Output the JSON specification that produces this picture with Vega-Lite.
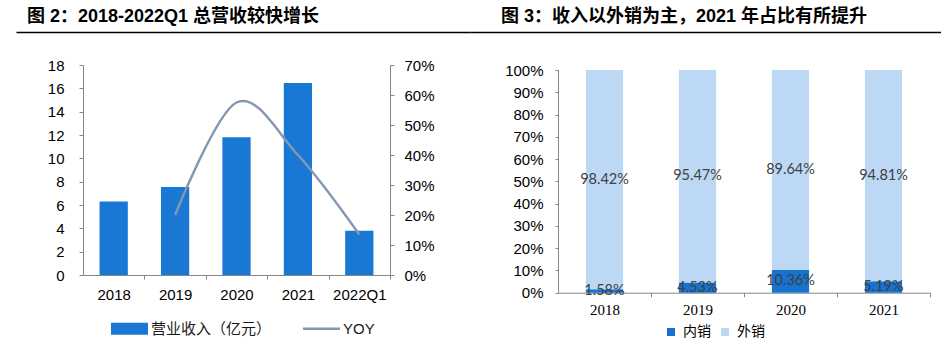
{
  "$schema": "https://vega.github.io/schema/vega-lite/v6.json",
  "padding": {"left": 16, "top": 8, "right": 0, "bottom": 0},
  "background": "white",
  "config": {
    "view": {"stroke": null},
    "font": "Liberation Sans",
    "axis": {"grid": false, "domainColor": "#868686", "tickColor": "#868686", "labelColor": "#000000", "title": null},
    "title": {"font": "Liberation Sans, Noto Sans CJK SC", "fontSize": 18, "fontWeight": "bold", "color": "#000000", "anchor": "start"}
  },
  "spacing": 26,
  "vconcat": [
    {
      "spacing": 0,
      "hconcat": [
        {
          "width": 454, "height": 1,
          "data": {"values": []},
          "mark": "point",
          "encoding": {"x": {"field": "a", "type": "quantitative", "scale": {"domain": [0, 1]},
            "axis": {"labels": false, "ticks": false, "domainColor": "#000000", "domainWidth": 1.5}}},
          "title": {"text": "图 2：2018-2022Q1 总营收较快增长", "dx": 11, "offset": 5}
        },
        {
          "width": 471, "height": 1,
          "data": {"values": []},
          "mark": "point",
          "encoding": {"x": {"field": "a", "type": "quantitative", "scale": {"domain": [0, 1]},
            "axis": {"labels": false, "ticks": false, "domainColor": "#000000", "domainWidth": 1.5}}},
          "title": {"text": "图 3：收入以外销为主，2021 年占比有所提升", "dx": 31, "offset": 5}
        }
      ]
    },
    {
      "spacing": 0,
      "hconcat": [
        {"width": 31, "height": 10, "data": {"values": []}, "mark": "point", "encoding": {}},
        {
          "spacing": 69,
          "resolve": {"scale": {"x": "independent", "y": "independent", "color": "independent"}, "legend": {"color": "independent"}, "axis": {"x": "independent", "y": "independent"}},
          "hconcat": [
            {
              "width": 307, "height": 210,
              "data": {"values": [
                {"period": "2018", "revenue": 6.3, "yoy": null},
                {"period": "2019", "revenue": 7.55, "yoy": 0.2},
                {"period": "2020", "revenue": 11.8, "yoy": 0.575},
                {"period": "2021", "revenue": 16.45, "yoy": 0.4},
                {"period": "2022Q1", "revenue": 3.8, "yoy": 0.135}
              ]},
              "encoding": {
                "x": {
                  "field": "period", "type": "nominal", "sort": null,
                  "scale": {"paddingInner": 0.54, "paddingOuter": 0.27},
                  "axis": {"labelAngle": 0, "labelFontSize": 15, "tickSize": 4, "labelPadding": 8, "tickOffset": 30.7, "labelOffset": -30.7}
                }
              },
              "layer": [
                {
                  "mark": {"type": "bar"},
                  "encoding": {
                    "y": {"field": "revenue", "type": "quantitative", "scale": {"domain": [0, 18]},
                      "axis": {"values": [0, 2, 4, 6, 8, 10, 12, 14, 16, 18], "labelFontSize": 15, "tickSize": 4, "labelPadding": 15, "labelOverlap": false}},
                    "color": {"datum": "营业收入（亿元）", "type": "nominal",
                      "scale": {"domain": ["营业收入（亿元）", "YOY"], "range": ["#1878d4", "#8497b0"]},
                      "legend": {
                        "orient": "none", "legendX": 39, "legendY": 256, "direction": "horizontal", "title": null,
                        "symbolSize": 1369, "labelFontSize": 15, "labelFont": "Liberation Sans, Noto Sans CJK SC", "labelColor": "#1a1a1a",
                        "columnPadding": 26, "labelOffset": 14,
                        "encode": {"symbols": {"update": {
                          "shape": {"signal": "datum.value === 'YOY' ? 'M-1,0H1' : 'M-1,-0.32H1V0.32H-1Z'"},
                          "fill": {"signal": "datum.value === 'YOY' ? 'transparent' : '#1878d4'"},
                          "stroke": {"signal": "datum.value === 'YOY' ? '#8497b0' : 'transparent'"},
                          "strokeWidth": {"signal": "datum.value === 'YOY' ? 2.5 : 0"},
                          "opacity": {"value": 1}
                        }}}
                      }
                    }
                  }
                },
                {
                  "transform": [{"filter": "datum.yoy != null"}],
                  "mark": {"type": "line", "interpolate": "cardinal", "strokeWidth": 2.5},
                  "encoding": {
                    "y": {"field": "yoy", "type": "quantitative", "scale": {"domain": [0, 0.7]},
                      "axis": {"orient": "right", "format": ".0%", "values": [0, 0.1, 0.2, 0.3, 0.4, 0.5, 0.6, 0.7], "labelFontSize": 15, "tickSize": 4, "labelPadding": 10, "labelOverlap": false}},
                    "color": {"datum": "YOY", "type": "nominal"}
                  }
                }
              ],
              "resolve": {"scale": {"y": "independent"}}
            },
            {
              "spacing": -6,
              "vconcat": [
                {"width": 1, "height": 4, "data": {"values": []}, "mark": "point", "encoding": {}},
                {
                  "width": 372, "height": 222.7,
                  "data": {"values": [
                    {"year": "2018", "type": "内销", "share": 0.0158},
                    {"year": "2018", "type": "外销", "share": 0.9842},
                    {"year": "2019", "type": "内销", "share": 0.0453},
                    {"year": "2019", "type": "外销", "share": 0.9547},
                    {"year": "2020", "type": "内销", "share": 0.1036},
                    {"year": "2020", "type": "外销", "share": 0.8964},
                    {"year": "2021", "type": "内销", "share": 0.0519},
                    {"year": "2021", "type": "外销", "share": 0.9481}
                  ]},
                  "transform": [
                    {"stack": "share", "groupby": ["year"], "sort": [{"field": "type", "order": "ascending"}], "as": ["y0", "y1"]},
                    {"calculate": "(datum.y0 + datum.y1) / 2", "as": "ymid"}
                  ],
                  "encoding": {
                    "x": {
                      "field": "year", "type": "nominal", "sort": null,
                      "scale": {"paddingInner": 0.6, "paddingOuter": 0.3},
                      "axis": {"labelAngle": 0, "labelFontSize": 15, "labelFont": "Liberation Serif", "tickSize": 4, "labelPadding": 6, "tickOffset": 46.5, "labelOffset": -46.5}
                    }
                  },
                  "layer": [
                    {
                      "mark": {"type": "bar"},
                      "encoding": {
                        "y": {"field": "y0", "type": "quantitative", "scale": {"domain": [0, 1]},
                          "axis": {"format": ".0%", "values": [0, 0.1, 0.2, 0.3, 0.4, 0.5, 0.6, 0.7, 0.8, 0.9, 1], "labelFontSize": 15, "tickSize": 3, "labelPadding": 12, "labelOverlap": false}},
                        "y2": {"field": "y1"},
                        "color": {"field": "type", "type": "nominal",
                          "scale": {"domain": ["内销", "外销"], "range": ["#1673d0", "#bcd8f5"]},
                          "legend": {
                            "orient": "none", "legendX": 106, "legendY": 260, "direction": "horizontal", "title": null,
                            "symbolType": "square", "symbolSize": 64, "symbolStrokeWidth": 0,
                            "labelFontSize": 14, "labelFont": "Noto Sans CJK SC", "labelColor": "#000000",
                            "columnPadding": 7, "labelOffset": 5
                          }
                        }
                      }
                    },
                    {
                      "mark": {"type": "text", "font": "Lato", "fontSize": 14.5, "color": "#404040"},
                      "encoding": {
                        "y": {"field": "ymid", "type": "quantitative", "scale": {"domain": [0, 1]},
                          "axis": {"format": ".0%", "values": [0, 0.1, 0.2, 0.3, 0.4, 0.5, 0.6, 0.7, 0.8, 0.9, 1], "labelFontSize": 15, "tickSize": 3, "labelPadding": 12, "labelOverlap": false}},
                        "text": {"field": "share", "type": "quantitative", "format": ".2%"}
                      }
                    }
                  ]
                }
              ]
            }
          ]
        }
      ]
    }
  ]
}
